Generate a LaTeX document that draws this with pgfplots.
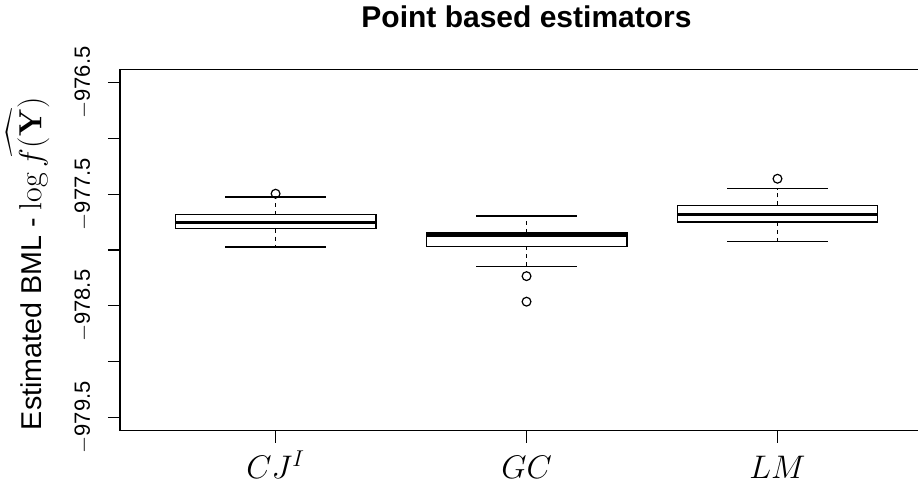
\RequirePackage{fix-cm}
\documentclass[border=0pt]{standalone}
\usepackage{amsmath}
\usepackage[no-math]{fontspec}
\setmainfont{Liberation Sans}
\usepackage{pgfplots}
\pgfplotsset{compat=1.18}
\pgfplotsset{
  whisk/.style={black, line width=0.9pt, dash pattern=on 3pt off 3pt, mark=none},
  cap/.style={black, line width=0.9pt, solid, mark=none},
  boxs/.style={draw=black, fill=white, line width=0.9pt, solid, mark=none, line join=miter},
  med/.style={black, line width=2.8pt, solid, mark=none, line cap=butt},
  outl/.style={only marks, mark=o, mark size=3.3pt, mark options={black, solid, line width=0.9pt}},
}
\begin{document}
\begin{tikzpicture}
\path (0,0) rectangle (689.25pt,366.75pt);
\begin{axis}[
  at={(90pt,43.7pt)}, anchor=south west,
  scale only axis, width=598.5pt, height=271.05pt,
  xmin=0.38, xmax=3.56, ymin=-979.62, ymax=-976.38,
  axis x line*=box, axis y line*=left,
  axis line style={line width=0.9pt, -},
  tick align=outside, major tick length=9pt,
  every tick/.style={black, line width=0.9pt},
  xtick pos=bottom, ytick pos=left,
  xtick={1,2,3}, xticklabels={$CJ^I$,$GC$,$LM$},
  ytick={-979.5,-979,-978.5,-978,-977.5,-977,-976.5},
  yticklabels={$-$979.5,,$-$978.5,,$-$977.5,,$-$976.5},
  yticklabel style={xshift=-13.5pt, rotate=90, anchor=base, inner sep=0pt, font=\fontsize{16.5}{18}\selectfont},
  xticklabel style={anchor=base, inner sep=0pt, yshift=-26.5pt, font=\fontsize{24.5}{26}\selectfont},
  title={Point based estimators},
  title style={at={(axis description cs:0.5094,1)}, anchor=base, yshift=25.7pt, inner sep=0pt, font=\fontsize{22.5}{26}\selectfont\bfseries},
  ylabel={Estimated BML - {\fontsize{24}{27}\selectfont$\log \widehat{f(\mathbf{Y})}$}},
  ylabel style={at={(axis description cs:-0.0985,0.462)}, anchor=base, inner sep=0pt, font=\fontsize{21.5}{24}\selectfont},
]
% ---- CJ^I : lw -977.972, lq -977.807, med -977.754, uq -977.682, uw -977.525
\addplot[whisk] coordinates {(1,-977.682) (1,-977.525)};
\addplot[whisk] coordinates {(1,-977.807) (1,-977.972)};
\addplot[cap] coordinates {(0.8,-977.525) (1.2,-977.525)};
\addplot[cap] coordinates {(0.8,-977.972) (1.2,-977.972)};
\addplot[boxs] coordinates {(0.6,-977.807) (1.4,-977.807) (1.4,-977.682) (0.6,-977.682) (0.6,-977.807)};
\addplot[med] coordinates {(0.6,-977.754) (1.4,-977.754)};
\addplot[outl] coordinates {(1,-977.495)};
% ---- GC : lw -978.151, lq -977.968, med -977.865, uq -977.843, uw -977.695
\addplot[whisk] coordinates {(2,-977.843) (2,-977.695)};
\addplot[whisk] coordinates {(2,-977.968) (2,-978.151)};
\addplot[cap] coordinates {(1.8,-977.695) (2.2,-977.695)};
\addplot[cap] coordinates {(1.8,-978.151) (2.2,-978.151)};
\addplot[boxs] coordinates {(1.6,-977.968) (2.4,-977.968) (2.4,-977.843) (1.6,-977.843) (1.6,-977.968)};
\addplot[med] coordinates {(1.6,-977.865) (2.4,-977.865)};
\addplot[outl] coordinates {(2,-978.234) (2,-978.463)};
% ---- LM : lw -977.921, lq -977.748, med -977.682, uq -977.599, uw -977.450
\addplot[whisk] coordinates {(3,-977.599) (3,-977.450)};
\addplot[whisk] coordinates {(3,-977.748) (3,-977.921)};
\addplot[cap] coordinates {(2.8,-977.450) (3.2,-977.450)};
\addplot[cap] coordinates {(2.8,-977.921) (3.2,-977.921)};
\addplot[boxs] coordinates {(2.6,-977.748) (3.4,-977.748) (3.4,-977.599) (2.6,-977.599) (2.6,-977.748)};
\addplot[med] coordinates {(2.6,-977.682) (3.4,-977.682)};
\addplot[outl] coordinates {(3,-977.361)};
\end{axis}
\end{tikzpicture}
\end{document}
